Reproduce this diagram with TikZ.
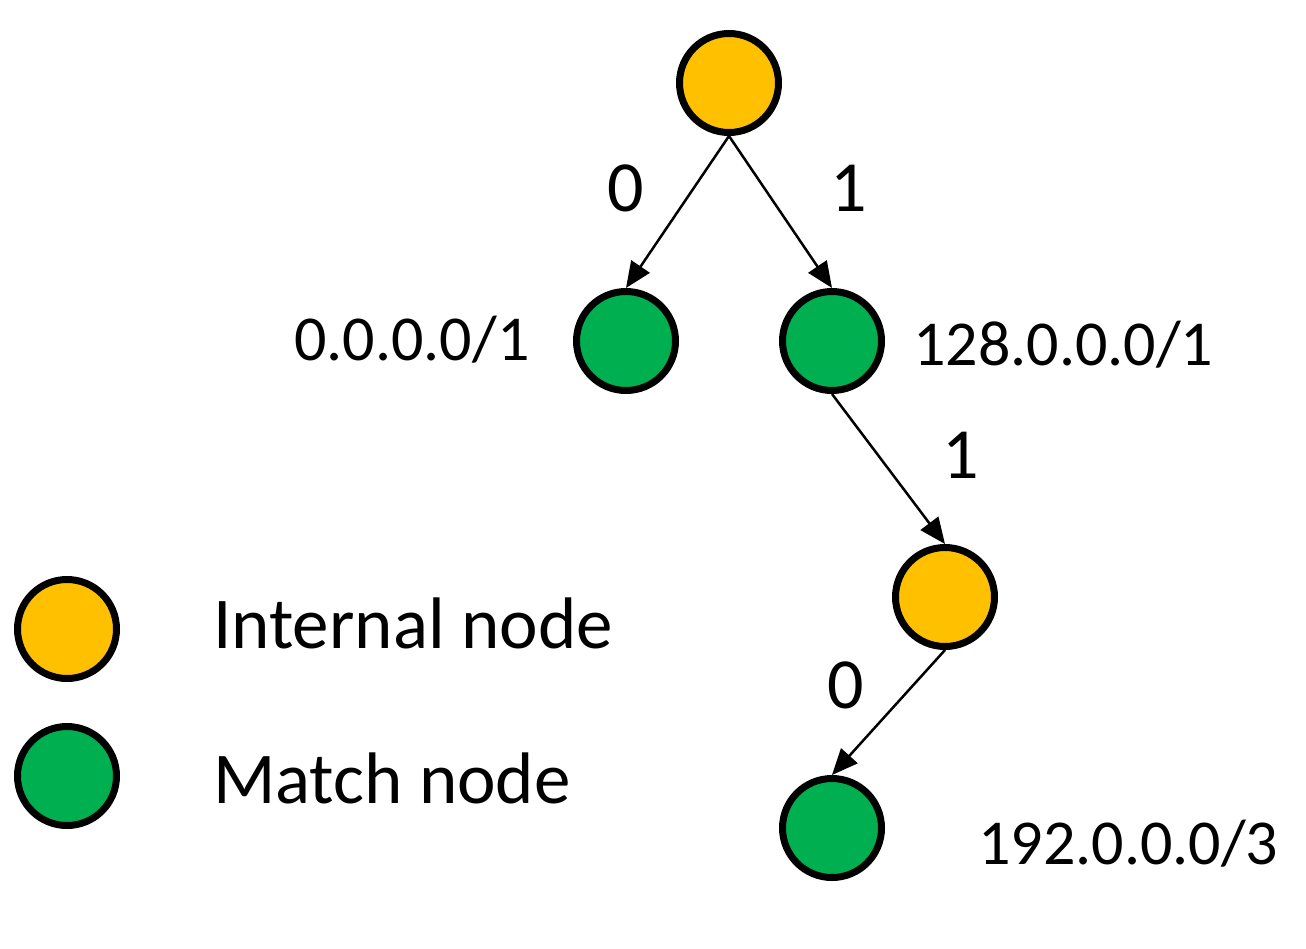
\documentclass[tikz,border=0pt]{standalone}
\usepackage{fontspec}
\setmainfont{Carlito}
\usetikzlibrary{arrows.meta}
\definecolor{internalC}{HTML}{FFC000}
\definecolor{matchC}{HTML}{00B050}
\begin{document}
\begin{tikzpicture}[x=1pt,y=-1pt,
  treenode/.style={circle,draw=black,line width=7pt,minimum size=99pt,inner sep=0pt},
  inode/.style={treenode,fill=internalC},
  mnode/.style={treenode,fill=matchC},
  edge/.style={line width=2.5pt,-{Triangle[length=26pt,width=22pt]}},
  bitlbl/.style={font=\fontsize{72}{80}\selectfont,inner sep=0pt,anchor=base},
  prefixlbl/.style={font=\fontsize{64}{72}\selectfont,inner sep=0pt,anchor=base west},
  legendlbl/.style={font=\fontsize{73}{80}\selectfont,inner sep=0pt,anchor=base west}]
\useasboundingbox (0,0) rectangle (1306,948);
\node[inode] (root) at (729,83) {};
\node[mnode] (left) at (626,341) {};
\node[mnode] (right) at (832,341) {};
\node[inode] (mid) at (945,597) {};
\node[mnode] (bottom) at (832,828) {};
\node[inode] (legI) at (67,629) {};
\node[mnode] (legM) at (67,776) {};

\draw[edge] (root.south) -- (left.north);
\draw[edge] (root.south) -- (right.north);
\draw[edge] (right.south) -- (mid.north);
\draw[edge] (mid.south) -- (bottom.north);

\node[bitlbl] (b0) at (626,211) {0};
\node[bitlbl] (b1) at (849,211) {1};
\node[bitlbl] (b2) at (961,478) {1};
\node[bitlbl] (b3) at (846,708) {0};

\node[prefixlbl] (p0) at (294,360) {0.0.0.0/1};
\node[prefixlbl] (p1) at (913,365) {128.0.0.0/1};
\node[prefixlbl] (p2) at (978,864) {192.0.0.0/3};

\node[legendlbl] (lI) at (213,648) {Internal node};
\node[legendlbl] (lM) at (213,803) {Match node};
\end{tikzpicture}
\end{document}
